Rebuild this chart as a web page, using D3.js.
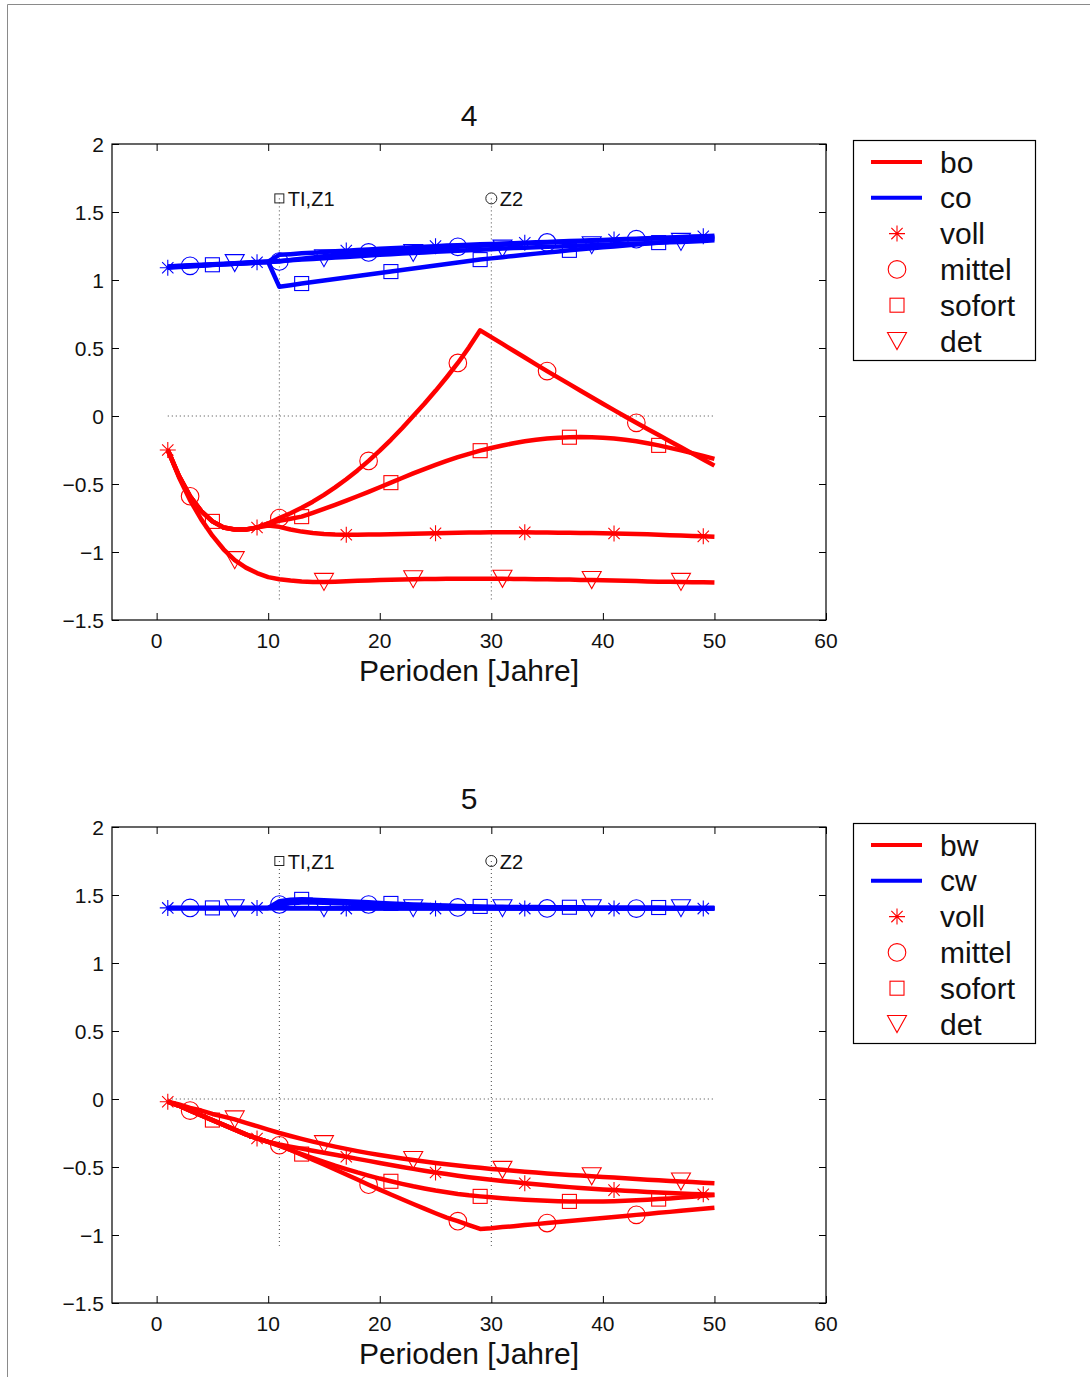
<!DOCTYPE html>
<html><head><meta charset="utf-8">
<script src="https://cdn.jsdelivr.net/npm/d3@7"></script>
<style>html,body{margin:0;padding:0;background:#fff;}svg{display:block;}</style>
</head><body>
<script>
// ---------- data ----------
const years = [1,2,3,4,5,6,7,8,9,10,11,12,13,14,15,16,17,18,19,20,21,22,23,24,25,26,27,28,29,30,31,32,33,34,35,36,37,38,39,40,41,42,43,44,45,46,47,48,49,50];

const seriesNames = ["voll","mittel","sofort","det"];
const markerStart = [1,3,5,7];   // first year with a marker, every 8 years
const markerStep = 8;

// panel 4
const boVoll = [-0.25,-0.44,-0.59,-0.70,-0.775,-0.82,-0.835,-0.835,-0.82,-0.805,
 -0.815,-0.835,-0.85,-0.86,-0.867,-0.871,-0.873,-0.873,-0.872,-0.871,
 -0.87,-0.868,-0.866,-0.864,-0.862,-0.86,-0.858,-0.857,-0.856,-0.855,
 -0.855,-0.855,-0.855,-0.856,-0.857,-0.858,-0.859,-0.86,-0.861,-0.862,
 -0.864,-0.866,-0.868,-0.87,-0.873,-0.876,-0.879,-0.882,-0.885,-0.888];
const boMittel = [-0.25,-0.44,-0.59,-0.70,-0.775,-0.82,-0.835,-0.835,-0.82,-0.79,
 -0.75,-0.715,-0.675,-0.63,-0.58,-0.525,-0.465,-0.40,-0.33,-0.255,
 -0.175,-0.09,0.0,0.09,0.185,0.285,0.39,0.505,0.63,0.58,
 0.53,0.48,0.43,0.38,0.33,0.282,0.234,0.186,0.138,0.09,
 0.043,-0.004,-0.05,-0.095,-0.14,-0.185,-0.23,-0.275,-0.32,-0.365];
const boSofort = [-0.25,-0.44,-0.59,-0.70,-0.775,-0.82,-0.835,-0.835,-0.82,-0.79,
 -0.77,-0.755,-0.74,-0.712,-0.683,-0.653,-0.622,-0.59,-0.558,-0.524,
 -0.49,-0.456,-0.422,-0.39,-0.36,-0.33,-0.303,-0.278,-0.255,-0.235,
 -0.217,-0.2,-0.186,-0.175,-0.166,-0.16,-0.156,-0.155,-0.156,-0.16,
 -0.166,-0.175,-0.186,-0.2,-0.216,-0.234,-0.253,-0.273,-0.294,-0.315];
const boDet = [-0.25,-0.45,-0.62,-0.76,-0.88,-0.98,-1.06,-1.115,-1.155,-1.185,
 -1.2,-1.21,-1.217,-1.22,-1.22,-1.218,-1.215,-1.212,-1.209,-1.206,
 -1.204,-1.202,-1.2,-1.199,-1.198,-1.197,-1.196,-1.196,-1.196,-1.196,
 -1.197,-1.198,-1.199,-1.2,-1.201,-1.202,-1.203,-1.205,-1.206,-1.208,
 -1.21,-1.212,-1.214,-1.216,-1.218,-1.219,-1.22,-1.222,-1.223,-1.225];
const coVoll = [1.09,1.095,1.1,1.105,1.11,1.115,1.12,1.125,1.13,1.135,
 1.185,1.19,1.196,1.201,1.206,1.211,1.216,1.221,1.225,1.229,
 1.233,1.237,1.241,1.245,1.249,1.253,1.256,1.259,1.262,1.265,
 1.268,1.271,1.274,1.277,1.28,1.283,1.286,1.289,1.292,1.295,
 1.298,1.301,1.304,1.307,1.31,1.313,1.316,1.319,1.322,1.325];
const coMittel = [1.095,1.1,1.104,1.108,1.112,1.116,1.12,1.124,1.128,1.132,
 1.136,1.147,1.157,1.166,1.175,1.183,1.19,1.197,1.203,1.209,
 1.214,1.219,1.224,1.229,1.234,1.239,1.244,1.248,1.252,1.256,
 1.26,1.264,1.268,1.272,1.276,1.279,1.282,1.285,1.288,1.291,
 1.294,1.297,1.3,1.303,1.306,1.308,1.31,1.312,1.314,1.316];
const coSofort = [1.095,1.1,1.104,1.108,1.112,1.116,1.12,1.124,1.128,1.132,
 0.95,0.962,0.974,0.985,0.996,1.007,1.018,1.029,1.04,1.051,
 1.062,1.073,1.084,1.095,1.106,1.117,1.128,1.139,1.15,1.159,
 1.168,1.177,1.186,1.194,1.202,1.21,1.218,1.226,1.233,1.24,
 1.247,1.254,1.261,1.268,1.275,1.281,1.287,1.293,1.299,1.305];
const coDet = [1.1,1.104,1.108,1.112,1.116,1.12,1.124,1.128,1.132,1.136,
 1.14,1.145,1.15,1.155,1.16,1.165,1.17,1.175,1.18,1.185,
 1.19,1.195,1.199,1.203,1.207,1.211,1.215,1.219,1.223,1.227,
 1.231,1.235,1.238,1.241,1.244,1.247,1.25,1.253,1.256,1.259,
 1.262,1.265,1.268,1.271,1.274,1.277,1.28,1.283,1.286,1.292];

// panel 5
const bwVoll = [-0.02,-0.05,-0.085,-0.12,-0.155,-0.19,-0.225,-0.26,-0.29,-0.315,
 -0.335,-0.35,-0.365,-0.38,-0.395,-0.41,-0.425,-0.44,-0.455,-0.47,
 -0.485,-0.5,-0.514,-0.527,-0.54,-0.552,-0.564,-0.575,-0.585,-0.594,
 -0.603,-0.611,-0.619,-0.627,-0.634,-0.641,-0.648,-0.654,-0.66,-0.665,
 -0.67,-0.675,-0.679,-0.683,-0.687,-0.691,-0.695,-0.698,-0.701,-0.704];
const bwMittel = [-0.02,-0.05,-0.085,-0.12,-0.155,-0.19,-0.225,-0.26,-0.29,-0.315,
 -0.34,-0.375,-0.41,-0.446,-0.482,-0.518,-0.555,-0.592,-0.63,-0.666,
 -0.702,-0.737,-0.772,-0.806,-0.84,-0.872,-0.898,-0.927,-0.955,-0.95,
 -0.942,-0.935,-0.927,-0.92,-0.912,-0.905,-0.897,-0.89,-0.882,-0.875,
 -0.867,-0.86,-0.852,-0.845,-0.837,-0.83,-0.822,-0.815,-0.807,-0.8];
const bwSofort = [-0.02,-0.05,-0.085,-0.12,-0.155,-0.19,-0.225,-0.26,-0.29,-0.315,
 -0.345,-0.375,-0.405,-0.435,-0.463,-0.49,-0.515,-0.54,-0.563,-0.585,
 -0.605,-0.624,-0.642,-0.658,-0.673,-0.686,-0.698,-0.708,-0.716,-0.723,
 -0.73,-0.736,-0.741,-0.745,-0.748,-0.751,-0.753,-0.754,-0.754,-0.753,
 -0.751,-0.748,-0.745,-0.741,-0.736,-0.731,-0.725,-0.719,-0.712,-0.706];
const bwDet = [-0.02,-0.04,-0.065,-0.085,-0.11,-0.13,-0.15,-0.175,-0.2,-0.225,
 -0.25,-0.272,-0.293,-0.313,-0.332,-0.35,-0.367,-0.383,-0.398,-0.412,
 -0.425,-0.437,-0.449,-0.46,-0.47,-0.48,-0.489,-0.498,-0.506,-0.514,
 -0.521,-0.528,-0.535,-0.541,-0.547,-0.553,-0.558,-0.563,-0.568,-0.573,
 -0.578,-0.583,-0.588,-0.593,-0.598,-0.603,-0.607,-0.611,-0.615,-0.619];
const cwVoll = [1.405,1.405,1.405,1.405,1.405,1.405,1.405,1.405,1.405,1.405,
 1.404,1.403,1.402,1.402,1.401,1.401,1.4,1.4,1.4,1.4,
 1.4,1.4,1.4,1.4,1.4,1.4,1.4,1.4,1.4,1.4,
 1.4,1.4,1.4,1.4,1.4,1.4,1.4,1.4,1.4,1.4,
 1.4,1.4,1.4,1.4,1.4,1.4,1.4,1.4,1.4,1.4];
const cwMittel = [1.405,1.405,1.405,1.405,1.405,1.405,1.405,1.405,1.405,1.405,
 1.43,1.44,1.445,1.445,1.443,1.44,1.437,1.433,1.43,1.427,
 1.424,1.421,1.418,1.415,1.413,1.411,1.409,1.407,1.405,1.404,
 1.403,1.402,1.402,1.401,1.401,1.4,1.4,1.4,1.4,1.4,
 1.4,1.4,1.4,1.4,1.4,1.4,1.4,1.4,1.4,1.4];
const cwSofort = [1.405,1.405,1.405,1.405,1.405,1.405,1.405,1.405,1.405,1.405,
 1.455,1.465,1.468,1.466,1.462,1.458,1.454,1.45,1.446,1.442,
 1.438,1.434,1.431,1.428,1.425,1.422,1.42,1.418,1.416,1.414,
 1.413,1.412,1.411,1.411,1.41,1.41,1.41,1.41,1.409,1.409,
 1.409,1.408,1.408,1.408,1.408,1.407,1.407,1.407,1.406,1.406];
const cwDet = [1.403,1.403,1.403,1.403,1.403,1.403,1.403,1.403,1.403,1.403,
 1.403,1.403,1.403,1.403,1.403,1.403,1.403,1.403,1.403,1.403,
 1.403,1.403,1.403,1.403,1.403,1.403,1.403,1.403,1.403,1.403,
 1.403,1.403,1.403,1.403,1.403,1.403,1.403,1.403,1.403,1.403,
 1.403,1.403,1.403,1.403,1.403,1.403,1.403,1.403,1.403,1.403];

const panelTitles = ["4","5"];
const lineNames = [["bo","co"],["bw","cw"]];
const xTicks = [0,10,20,30,40,50,60];
const yTicks = [-1.5,-1,-0.5,0,0.5,1,1.5,2];
const xLabel = "Perioden [Jahre]";
const eventYears = [11,30];
const eventLabels = ["TI,Z1","Z2"];
const eventLevel = [1.6,1.75];
const eventLow = [-1.35,-1.08];
const zeroLine = [1,50];

// ---------- drawing ----------
const W = 1090, H = 1377;
const RED = "#ff0000", BLUE = "#0000ff";
const FONT = "'Liberation Sans', Arial, Helvetica, sans-serif";
const svg = d3.select("body").append("svg").attr("width", W).attr("height", H)
  .style("font-family", FONT);

// page frame (left & top edges)
svg.append("line").attr("x1",7.5).attr("y1",4.5).attr("x2",W).attr("y2",4.5).attr("stroke","#8a8a8a").attr("stroke-width",1);
svg.append("line").attr("x1",7.5).attr("y1",4.5).attr("x2",7.5).attr("y2",H).attr("stroke","#8a8a8a").attr("stroke-width",1);

const panels = [
  {top:144, red:[boVoll,boMittel,boSofort,boDet], blue:[coVoll,coMittel,coSofort,coDet]},
  {top:827, red:[bwVoll,bwMittel,bwSofort,bwDet], blue:[cwVoll,cwMittel,cwSofort,cwDet]}
];

function drawMarker(g, kind, x, y, color) {
  const sw = 1.1;
  if (kind === "voll") {
    const r = 8;
    const d = r*0.7071;
    g.append("path").attr("d",
      `M${x-r},${y}L${x+r},${y}M${x},${y-r}L${x},${y+r}M${x-d},${y-d}L${x+d},${y+d}M${x-d},${y+d}L${x+d},${y-d}`)
      .attr("stroke", color).attr("stroke-width", sw).attr("fill","none");
  } else if (kind === "mittel") {
    g.append("circle").attr("cx",x).attr("cy",y).attr("r",8.8)
      .attr("stroke",color).attr("stroke-width",sw).attr("fill","none");
  } else if (kind === "sofort") {
    g.append("rect").attr("x",x-7).attr("y",y-7).attr("width",14).attr("height",14)
      .attr("stroke",color).attr("stroke-width",sw).attr("fill","none");
  } else {
    g.append("path").attr("d", `M${x-9.5},${y-8.5}L${x+9.5},${y-8.5}L${x},${y+8.5}Z`)
      .attr("stroke",color).attr("stroke-width",sw).attr("fill","none").attr("stroke-linejoin","miter");
  }
}

panels.forEach((p, pi) => {
  const left = 112, right = 826, top = p.top, bottom = p.top + 476;
  const x = d3.scaleLinear().domain([-4, 60]).range([left, right]);
  const y = d3.scaleLinear().domain([-1.5, 2]).range([bottom, top]);
  const g = svg.append("g");

  // axes box
  g.append("rect").attr("x",left).attr("y",top).attr("width",right-left).attr("height",bottom-top)
    .attr("fill","none").attr("stroke","#000").attr("stroke-width",1.2);

  // ticks (inside, all four sides) via d3 axes
  const tl = 7;
  g.append("g").attr("transform",`translate(0,${bottom})`)
    .call(d3.axisBottom(x).tickValues(xTicks).tickSize(-tl).tickFormat(""))
    .call(s => { s.select(".domain").remove(); s.selectAll("line").attr("stroke","#000"); });
  g.append("g").attr("transform",`translate(0,${top})`)
    .call(d3.axisTop(x).tickValues(xTicks).tickSize(-tl).tickFormat(""))
    .call(s => { s.select(".domain").remove(); s.selectAll("line").attr("stroke","#000"); });
  g.append("g").attr("transform",`translate(${left},0)`)
    .call(d3.axisLeft(y).tickValues(yTicks).tickSize(-tl).tickFormat(""))
    .call(s => { s.select(".domain").remove(); s.selectAll("line").attr("stroke","#000"); });
  g.append("g").attr("transform",`translate(${right},0)`)
    .call(d3.axisRight(y).tickValues(yTicks).tickSize(-tl).tickFormat(""))
    .call(s => { s.select(".domain").remove(); s.selectAll("line").attr("stroke","#000"); });

  // tick labels
  const fmt = v => (v < 0 ? "\u2212" : "") + Math.abs(v);
  xTicks.forEach(t => g.append("text").attr("x", x(t)).attr("y", bottom + 28)
    .attr("text-anchor","middle").attr("font-size",21).attr("fill","#111").text(fmt(t)));
  yTicks.forEach(t => g.append("text").attr("x", left - 8).attr("y", y(t) + 7.5)
    .attr("text-anchor","end").attr("font-size",21).attr("fill","#111").text(fmt(t)));

  // title and x label
  g.append("text").attr("x",(left+right)/2).attr("y",top-18).attr("text-anchor","middle")
    .attr("font-size",30).attr("fill","#111").text(panelTitles[pi]);
  g.append("text").attr("x",(left+right)/2).attr("y",bottom+61).attr("text-anchor","middle")
    .attr("font-size",30).attr("fill","#111").text(xLabel);

  // dotted reference lines
  g.append("line").attr("x1",x(zeroLine[0])).attr("x2",x(zeroLine[1])).attr("y1",y(0)).attr("y2",y(0))
    .attr("stroke","#444").attr("stroke-width",1).attr("stroke-dasharray","1,3");
  const lev = eventLevel[pi];
  eventYears.forEach((ev, i) => {
    g.append("line").attr("x1",x(ev)).attr("x2",x(ev)).attr("y1",y(lev)).attr("y2",y(eventLow[pi]))
      .attr("stroke","#444").attr("stroke-width",1).attr("stroke-dasharray","1,3");
    if (i === 0) {
      g.append("rect").attr("x",x(ev)-4.5).attr("y",y(lev)-4.5).attr("width",9).attr("height",9)
        .attr("fill","none").attr("stroke","#222").attr("stroke-width",1);
    } else {
      g.append("circle").attr("cx",x(ev)).attr("cy",y(lev)).attr("r",5.5)
        .attr("fill","none").attr("stroke","#222").attr("stroke-width",1);
    }
    g.append("text").attr("x",x(ev)+8.5).attr("y",y(lev)+7.5).attr("font-size",20)
      .attr("fill","#111").text(eventLabels[i]);
  });

  // lines
  const line = d3.line().x((d,i) => x(years[i])).y(d => y(d));
  const drawSet = (arr, color) => {
    arr.forEach((vals, si) => {
      g.append("path").attr("d", line(vals)).attr("fill","none").attr("stroke",color)
        .attr("stroke-width",4.5).attr("stroke-linejoin","round").attr("stroke-linecap","butt");
    });
  };
  drawSet(p.blue, BLUE);
  drawSet(p.red, RED);
  const drawMarks = (arr, color) => {
    arr.forEach((vals, si) => {
      vals.forEach((v, i) => {
        const yr = years[i];
        if ((yr - markerStart[si]) % markerStep === 0 && yr >= markerStart[si]) {
          drawMarker(g, seriesNames[si], x(yr), y(v), color);
        }
      });
    });
  };
  drawMarks(p.blue, BLUE);
  drawMarks(p.red, RED);

  // legend
  const lx = 853, ly = top - 4, lw = 182, lh = 220;
  const lg = svg.append("g");
  lg.append("rect").attr("x",lx+0.5).attr("y",ly+0.5).attr("width",lw).attr("height",lh)
    .attr("fill","#fff").attr("stroke","#000").attr("stroke-width",1.2);
  const entries = [
    {label: lineNames[pi][0], type:"line", color: RED},
    {label: lineNames[pi][1], type:"line", color: BLUE},
  ].concat(seriesNames.map(n => ({label:n, type:"marker", kind:n, color:RED})));
  entries.forEach((e, i) => {
    const cy = ly + 22 + i * 35.8;
    if (e.type === "line") {
      lg.append("line").attr("x1",871).attr("x2",922).attr("y1",cy).attr("y2",cy)
        .attr("stroke",e.color).attr("stroke-width",4);
    } else {
      drawMarker(lg, e.kind, 897, cy, e.color);
    }
    lg.append("text").attr("x",940).attr("y",cy+10.5).attr("font-size",30).attr("fill","#111").text(e.label);
  });
});
</script>
</body></html>
